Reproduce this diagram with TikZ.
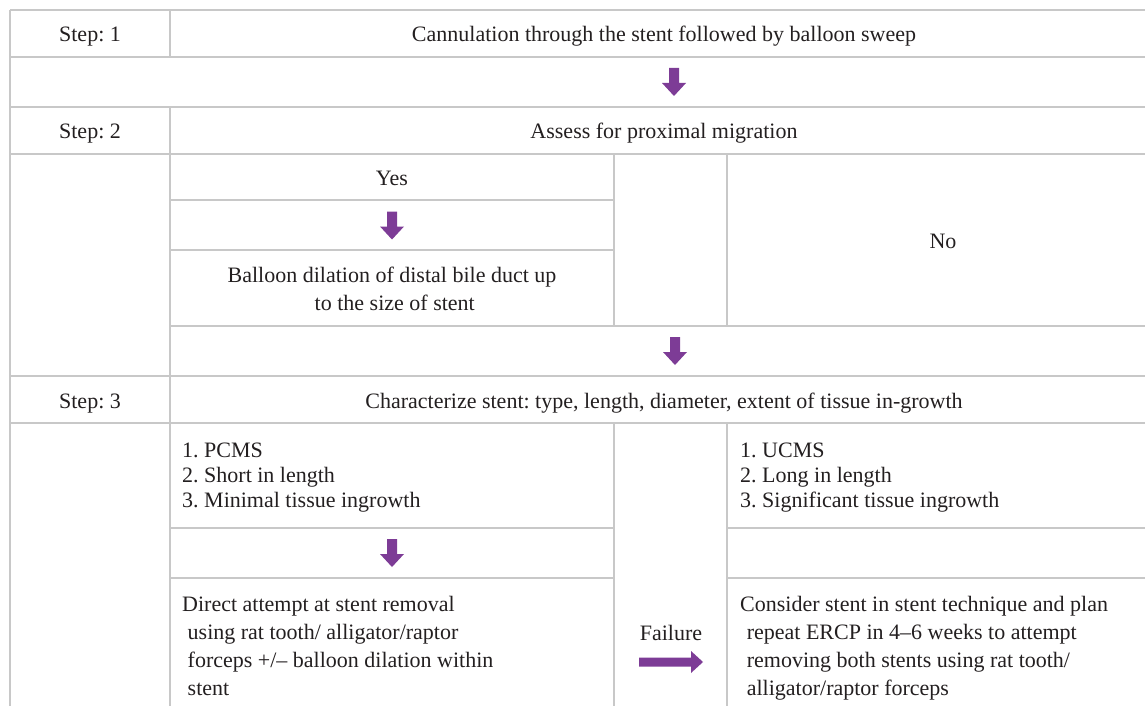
\documentclass[tikz,border=0pt]{standalone}
\usepackage{fontspec}
\setmainfont{Liberation Serif}
\frenchspacing
\definecolor{arrowpurple}{RGB}{125,60,150}
\definecolor{gridgray}{RGB}{200,200,200}
\definecolor{inkblack}{RGB}{35,31,32}
\begin{document}
\begin{tikzpicture}[x=1pt,y=-1pt,
  gridline/.style={draw=gridgray, line width=1.5pt},
  cell/.style={inner sep=0pt, text=inkblack, font=\fontsize{22}{28}\selectfont},
  listcell/.style={cell, font=\fontsize{22}{25}\selectfont},
  downarrow/.style={fill=arrowpurple},
  rightarrow/.style={fill=arrowpurple}]
\useasboundingbox (0,0) rectangle (1145,706);
% full-width rules
\foreach \yy in {10,57,107,154,376,423}
  \draw[gridline] (10,\yy) -- (1145,\yy);
% partial rules
\draw[gridline] (170,200) -- (614,200);
\draw[gridline] (170,250) -- (614,250);
\draw[gridline] (170,326) -- (1145,326);
\draw[gridline] (170,528) -- (614,528);
\draw[gridline] (170,578) -- (614,578);
\draw[gridline] (727,528) -- (1145,528);
\draw[gridline] (727,578) -- (1145,578);
% vertical rules
\draw[gridline] (10,10) -- (10,706);
\draw[gridline] (170,10) -- (170,57);
\draw[gridline] (170,107) -- (170,706);
\draw[gridline] (614,154) -- (614,326);
\draw[gridline] (727,154) -- (727,326);
\draw[gridline] (614,423) -- (614,706);
\draw[gridline] (727,423) -- (727,706);

% texts
\node[cell, anchor=base] (s1) at (90,42) {Step: 1};
\node[cell, anchor=base] (t1) at (664,42) {Cannulation through the stent followed by balloon sweep};
\node[cell, anchor=base] (s2) at (90,139) {Step: 2};
\node[cell, anchor=base] (t2) at (664,139) {Assess for proximal migration};
\node[cell, anchor=base] (yes) at (392,185) {Yes};
\node[cell, anchor=base] (bal) at (392,282) {\parbox[t]{440pt}{\centering Balloon dilation of distal bile duct up\\ \hspace*{0.25em}to the size of stent}};
\node[cell, anchor=base] (no) at (943,248) {No};
\node[cell, anchor=base] (s3) at (90,408) {Step: 3};
\node[cell, anchor=base] (t3) at (664,408) {Characterize stent: type, length, diameter, extent of tissue in-growth};
\node[listcell, anchor=base west] (pcms) at (182,457) {\parbox[t]{420pt}{\raggedright 1. PCMS\\ 2. Short in length\\ 3. Minimal tissue ingrowth}};
\node[listcell, anchor=base west] (ucms) at (740,457) {\parbox[t]{400pt}{\raggedright 1. UCMS\\ 2. Long in length\\ 3. Significant tissue ingrowth}};
\node[cell, anchor=base west] (direct) at (182,611) {\parbox[t]{420pt}{\raggedright Direct attempt at stent removal\\ \hspace*{0.25em}using rat tooth/ alligator/raptor\\ \hspace*{0.25em}forceps +/\textendash{} balloon dilation within\\ \hspace*{0.25em}stent}};
\node[cell, anchor=base] (fail) at (671,640) {Failure};
\node[cell, anchor=base west] (consider) at (740,611) {\parbox[t]{405pt}{\raggedright Consider stent in stent technique and plan\\ \hspace*{0.3em}repeat ERCP in 4\textendash 6 weeks to attempt\\ \hspace*{0.3em}removing both stents using rat tooth/\\ \hspace*{0.3em}alligator/raptor forceps}};

% block arrows
\coordinate (a1) at (674,82);
\coordinate (a2) at (392,225.5);
\coordinate (a3) at (675,351);
\coordinate (a4) at (392,553);
\coordinate (a5) at (671,662);
\foreach \c in {a1,a2,a3,a4}
  \fill[downarrow, shift={(\c)}] (-5,-14) -- (5,-14) -- (5,1) -- (12,1) -- (0,14) -- (-12,1) -- (-5,1) -- cycle;
\fill[rightarrow, shift={(a5)}] (-32,-4.5) -- (20,-4.5) -- (20,-11) -- (32,0) -- (20,11) -- (20,4.5) -- (-32,4.5) -- cycle;
\end{tikzpicture}
\end{document}
